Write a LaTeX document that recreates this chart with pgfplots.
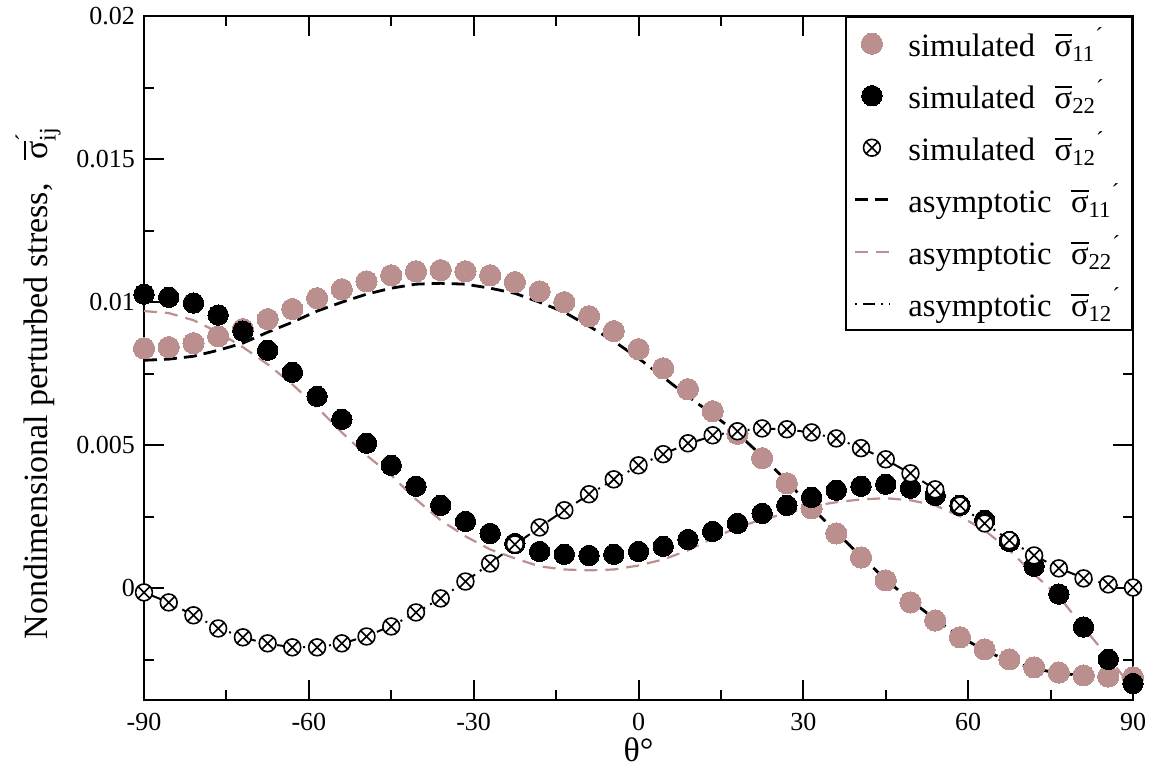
\documentclass[border=0pt]{standalone}
\usepackage{fontspec}
\setmainfont{Liberation Serif}
\usepackage{amsmath}
\usepackage{pgfplots}
\usepackage{pgfplotstable}
\pgfplotsset{compat=1.18}
\usetikzlibrary{calc}
\definecolor{rosy}{HTML}{BC8F8F}

% theta, simulated 11/22/12, asymptotic 11/22/12
\pgfplotstableread{
x     s11      s22      s12      a11      a22      a12
-90   0.00839  0.01028 -0.00014  0.00797  0.00969 -0.00014
-85.5 0.00843  0.01017 -0.00049  0.00801  0.00962 -0.00049
-81   0.00857  0.00997 -0.00094  0.00811  0.00937 -0.00094
-76.5 0.00881  0.00955 -0.00140  0.00832  0.00895 -0.00138
-72   0.00906  0.00899 -0.00171  0.00857  0.00843 -0.00171
-67.5 0.00941  0.00832 -0.00192  0.00895  0.00783 -0.00194
-63   0.00976  0.00755 -0.00206  0.00930  0.00713 -0.00205
-58.5 0.01014  0.00671 -0.00206  0.00969  0.00633 -0.00205
-54   0.01045  0.00591 -0.00192  0.01000  0.00545 -0.00193
-49.5 0.01073  0.00507 -0.00168  0.01028  0.00465 -0.00167
-45   0.01094  0.00430 -0.00133  0.01049  0.00395 -0.00131
-40.5 0.01108  0.00357 -0.00084  0.01063  0.00311 -0.00086
-36   0.01112  0.00290 -0.00035  0.01066  0.00238 -0.00034
-31.5 0.01108  0.00234  0.00024  0.01063  0.00182  0.00024
-27   0.01094  0.00192  0.00087  0.01049  0.00136  0.00087
-22.5 0.01070  0.00157  0.00154  0.01031  0.00105  0.00152
-18   0.01038  0.00129  0.00213  0.01000  0.00077  0.00214
-13.5 0.01000  0.00119  0.00273  0.00965  0.00066  0.00273
-9    0.00951  0.00115  0.00329  0.00916  0.00063  0.00328
-4.5  0.00899  0.00119  0.00381  0.00864  0.00066  0.00380
0     0.00836  0.00129  0.00430  0.00804  0.00080  0.00428
4.5   0.00769  0.00147  0.00469  0.00738  0.00101  0.00470
9     0.00696  0.00171  0.00507  0.00671  0.00133  0.00505
13.5  0.00619  0.00199  0.00535  0.00608  0.00175  0.00533
18    0.00540  0.00227  0.00549  0.00542  0.00213  0.00551
22.5  0.00455  0.00262  0.00559  0.00462  0.00241  0.00558
27    0.00367  0.00290  0.00556  0.00374  0.00262  0.00556
31.5  0.00280  0.00318  0.00545  0.00283  0.00287  0.00544
36    0.00192  0.00343  0.00524  0.00196  0.00301  0.00523
40.5  0.00108  0.00357  0.00490  0.00112  0.00311  0.00491
45    0.00028  0.00364  0.00451  0.00031  0.00315  0.00450
49.5 -0.00049  0.00350  0.00402 -0.00042  0.00308  0.00401
54   -0.00112  0.00325  0.00346 -0.00108  0.00290  0.00346
58.5 -0.00171  0.00290  0.00290 -0.00168  0.00252  0.00289
63   -0.00213  0.00238  0.00227 -0.00217  0.00203  0.00228
67.5 -0.00248  0.00164  0.00168 -0.00255  0.00133  0.00168
72   -0.00276  0.00077  0.00115 -0.00280  0.00049  0.00115
76.5 -0.00294 -0.00020  0.00070 -0.00297 -0.00028  0.00071
81   -0.00304 -0.00135  0.00035 -0.00304 -0.00136  0.00036
85.5 -0.00308 -0.00248  0.00014 -0.00308 -0.00241  0.00014
90   -0.00311 -0.00332  0.00003 -0.00311 -0.00350  0.00004
}\stressdata

\newcommand{\sig}[1]{$\overline{\text{σ}}_{\text{#1}}{}^{\text{´}}$}

\begin{document}
\begin{tikzpicture}
\begin{axis}[
  name=ax, scale only axis,
  width=494.5pt, height=342pt,
  xmin=-90, xmax=90, ymin=-0.0039, ymax=0.02,
  clip=false,
  xtick={-90,-60,...,90}, xticklabels={-90,-60,-30,0,30,60,90},
  minor xtick={-75,-45,-15,15,45,75},
  ytick={0,0.005,0.01,0.015,0.02}, yticklabels={0,0.005,0.01,0.015,0.02},
  minor ytick={-0.0025,0.0025,0.0075,0.0125,0.0175},
  scaled y ticks=false,
  tick align=inside, major tick length=10pt, minor tick length=5pt,
  every tick/.style={black, line width=1pt},
  axis line style={line width=1pt},
  tick label style={font=\fontsize{13}{15}\selectfont},
  xticklabel style={yshift=-3pt},
  yticklabel style={xshift=-1pt},
  xlabel={θ°},
  xlabel style={at={(axis description cs:0.5,-0.073)}, anchor=center, font=\fontsize{17}{20}\selectfont},
  ylabel={Nondimensional perturbed stress,\hspace{0.7em}$\overline{\text{σ}}^{\text{´}}_{\text{ij}}$},
  ylabel style={at={(axis description cs:-0.107,0.463)}, anchor=center, font=\fontsize{17}{20}\selectfont},
  legend style={at={(1,1)}, anchor=north east, draw=black, line width=1pt, fill=white,
    font=\fontsize{16.3}{19}\selectfont, row sep=6.3pt, inner xsep=3.5pt, inner ysep=3.5pt,
    /tikz/every odd column/.append style={column sep=7pt}},
  legend cell align=left,
]
\addplot[only marks, mark=*, mark size=5.3pt, mark options={fill=rosy, draw=rosy, line width=0pt}]
  table[x=x, y=s11] {\stressdata};
\addlegendentry{simulated\hspace{0.6em}\sig{11}}
\addplot[only marks, mark=*, mark size=5.1pt, mark options={fill=black, draw=black, line width=0pt}]
  table[x=x, y=s22] {\stressdata};
\addlegendentry{simulated\hspace{0.6em}\sig{22}}
\addplot[only marks, mark=otimes*, mark size=4.2pt, mark options={fill=white, draw=black, line width=0.8pt}]
  table[x=x, y=s12] {\stressdata};
\addlegendentry{simulated\hspace{0.6em}\sig{12}}
\addplot[black, line width=1.4pt, dash pattern=on 6.5pt off 3.5pt, no marks]
  table[x=x, y=a11] {\stressdata};
\addlegendentry{asymptotic\hspace{0.6em}\sig{11}}
\addplot[rosy, line width=1.1pt, dash pattern=on 6.5pt off 4pt, no marks]
  table[x=x, y=a22] {\stressdata};
\addlegendentry{asymptotic\hspace{0.6em}\sig{22}}
\addplot[black, line width=1pt, dash pattern=on 1pt off 3pt on 6pt off 3pt on 1pt off 3pt, no marks]
  table[x=x, y=a12] {\stressdata};
\addlegendentry{asymptotic\hspace{0.6em}\sig{12}}
\end{axis}
\pgfresetboundingbox
\path[use as bounding box] ($(ax.south west)+(-72pt,-36pt)$) rectangle ($(ax.north east)+(13.5pt,8pt)$);
\end{tikzpicture}
\end{document}
